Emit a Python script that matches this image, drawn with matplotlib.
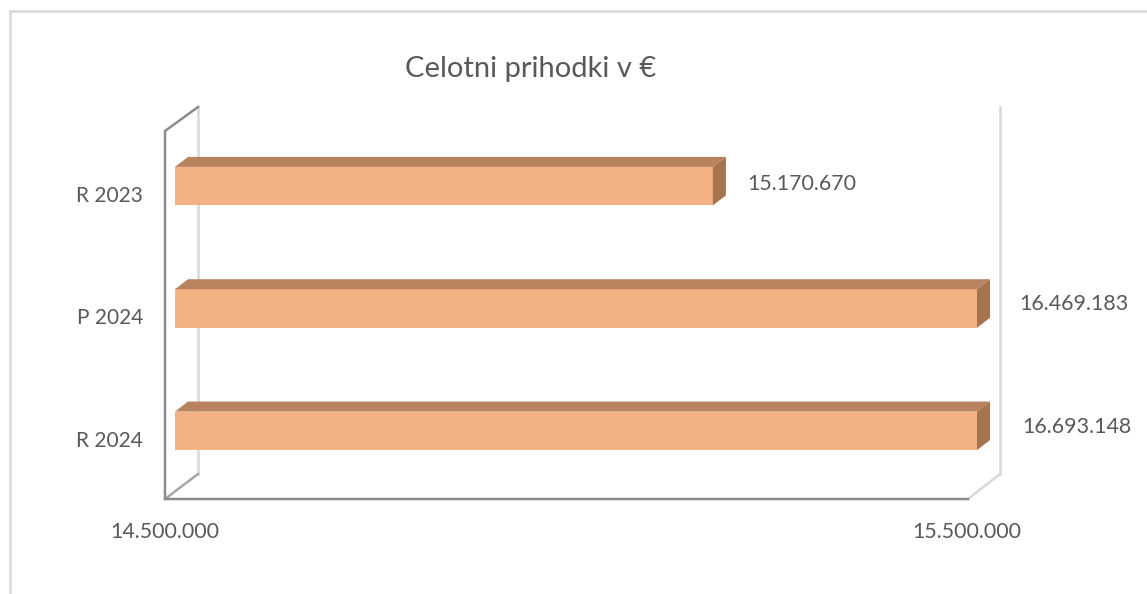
import numpy as np
import matplotlib
matplotlib.use("Agg")
import matplotlib.pyplot as plt
from matplotlib.lines import Line2D
from matplotlib.patches import Polygon
from matplotlib.transforms import Affine2D

# Data
categories = ["R 2024", "P 2024", "R 2023"]
values = [16693148, 16469183, 15170670]
x_ticks = [14500000, 15500000]
title = "Celotni prihodki v €"

# Pixel layout of the reference
W, H = 1147, 594
left, right, top, bottom = 175, 977, 125, 492
depth_x, depth_y = 13, 10
label_dx = [100, 97, 89]   # px from the clipped bar end to label centre
label_dy = [4, 5, 2]


def dots(v):
    return f"{v:,}".replace(",", ".")


plt.rcParams["font.family"] = ["Lato", "DejaVu Sans"]

fig = plt.figure(figsize=(W / 100, H / 100), dpi=100)
ax = fig.add_axes([left / W, 1 - bottom / H, (right - left) / W, (bottom - top) / H], zorder=2)
ax.patch.set_visible(False)
for s in ax.spines.values():
    s.set_visible(False)

ax.set_xlim(x_ticks[0], x_ticks[1])
ax.set_ylim(-0.5, 2.5)
y = np.arange(len(categories))
bar_h = 0.315

ax.barh(y, values, left=0, height=bar_h, color="#F4B183", linewidth=0)

# 3D look of the bars, depth given in data units
dx = depth_x * (x_ticks[1] - x_ticks[0]) / (right - left)
dy = depth_y * 3 / (bottom - top)
for i, v in enumerate(values):
    end = min(v, x_ticks[1])
    y0, y1 = y[i] - bar_h / 2, y[i] + bar_h / 2
    ax.add_patch(Polygon([(x_ticks[0], y1), (end, y1), (end + dx, y1 + dy), (x_ticks[0] + dx, y1 + dy)],
                         facecolor="#B9835F", linewidth=0, clip_on=False))
    ax.add_patch(Polygon([(end, y0), (end, y1), (end + dx, y1 + dy), (end + dx, y0 + dy)],
                         facecolor="#A5744F", linewidth=0, clip_on=False))
    ax.annotate(dots(v), xy=(end, y[i]), xytext=(label_dx[i], label_dy[i]), textcoords="offset pixels",
                ha="center", va="center", fontsize=15.4, color="#595959", annotation_clip=False)

# Axis labels
ax.set_xticks([])
ax.set_yticks(y)
ax.set_yticklabels(categories, fontsize=15, color="#595959")
ax.tick_params(axis="y", length=0, pad=23)
for lab in ax.get_yticklabels():
    lab.set_transform(lab.get_transform() + Affine2D().translate(0, -8))
for t in x_ticks:
    ax.annotate(dots(t), xy=(t, -0.5), xytext=(-10, -40), textcoords="offset pixels",
                ha="center", va="center", fontsize=15.4, color="#595959", annotation_clip=False)

# Walls and chart frame, in image pixels
px = Affine2D().scale(1, -1).translate(0, H)


def wall(xs, ys, color):
    fig.add_artist(Line2D(xs, ys, color=color, linewidth=1.8, transform=px, zorder=1,
                          solid_capstyle="projecting", solid_joinstyle="miter"))


wall([10, 10], [594, 11], "#D9D9D9")
wall([10, 1147], [11, 11], "#D9D9D9")
wall([198, 198], [107, 474], "#D9D9D9")
wall([1000, 1000], [107, 474], "#D9D9D9")
wall([1000, 968], [474, 499], "#D9D9D9")
wall([198, 165], [474, 499], "#A6A6A6")
wall([198, 165, 165, 968], [107, 131, 499, 499], "#8C8C8C")

fig.text(531 / W, 1 - 69 / H, title, ha="center", va="center", fontsize=21, color="#595959")

fig.savefig("out.png", dpi=100, facecolor="white")
